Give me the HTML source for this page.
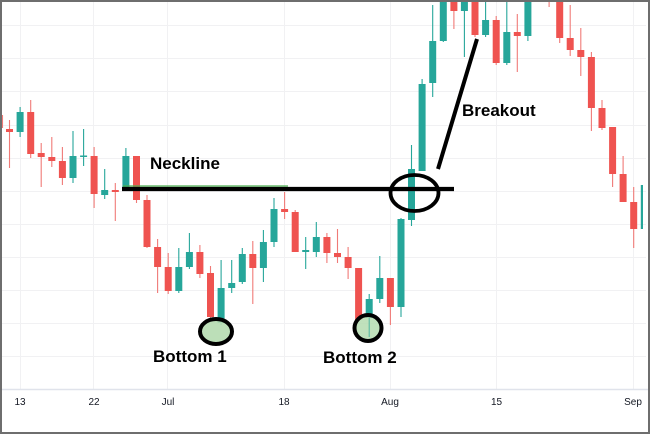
<!DOCTYPE html>
<html>
<head>
<meta charset="utf-8">
<style>
html,body{margin:0;padding:0;background:#fff;}
svg{display:block;}
.lbl{font-family:"Liberation Sans",sans-serif;font-size:10px;fill:#131722;text-anchor:middle;}
.ann{font-family:"Liberation Sans",sans-serif;font-size:17px;font-weight:bold;fill:#000;}
</style>
</head>
<body>
<svg width="652" height="435" viewBox="0 0 652 435" xmlns="http://www.w3.org/2000/svg">
<defs>
<clipPath id="plot"><rect x="2" y="2" width="641" height="387"/></clipPath>
</defs>
<rect x="0" y="0" width="652" height="435" fill="#fff"/>
<!-- grid -->
<g stroke="#f1f1f3" stroke-width="1">
<line x1="2" y1="25.5" x2="646" y2="25.5"/>
<line x1="2" y1="58.5" x2="646" y2="58.5"/>
<line x1="2" y1="91.5" x2="646" y2="91.5"/>
<line x1="2" y1="125.5" x2="646" y2="125.5"/>
<line x1="2" y1="158.5" x2="646" y2="158.5"/>
<line x1="2" y1="191.5" x2="646" y2="191.5"/>
<line x1="2" y1="224.5" x2="646" y2="224.5"/>
<line x1="2" y1="257.5" x2="646" y2="257.5"/>
<line x1="2" y1="290.5" x2="646" y2="290.5"/>
<line x1="2" y1="323.5" x2="646" y2="323.5"/>
<line x1="2" y1="356.5" x2="646" y2="356.5"/>
<line x1="20.5" y1="2" x2="20.5" y2="389"/>
<line x1="93.5" y1="2" x2="93.5" y2="389"/>
<line x1="167.5" y1="2" x2="167.5" y2="389"/>
<line x1="284.5" y1="2" x2="284.5" y2="389"/>
<line x1="390.5" y1="2" x2="390.5" y2="389"/>
<line x1="496.5" y1="2" x2="496.5" y2="389"/>
<line x1="633.5" y1="2" x2="633.5" y2="389"/>
</g>
<!-- axis line -->
<line x1="2" y1="389.5" x2="648" y2="389.5" stroke="#e0e3eb" stroke-width="1.5"/>

<g clip-path="url(#plot)">
<!-- wicks -->
<g stroke-width="1.1">
<line x1="2.5" y1="115" x2="2.5" y2="128" stroke="#f07a77"/>
<line x1="9.5" y1="120" x2="9.5" y2="168" stroke="#f07a77"/>
<line x1="20.1" y1="107" x2="20.1" y2="137" stroke="#26a69a"/>
<line x1="30.7" y1="100" x2="30.7" y2="158" stroke="#f07a77"/>
<line x1="41.2" y1="143" x2="41.2" y2="187" stroke="#f07a77"/>
<line x1="51.8" y1="137" x2="51.8" y2="167" stroke="#f07a77"/>
<line x1="62.4" y1="147" x2="62.4" y2="185" stroke="#f07a77"/>
<line x1="73" y1="131" x2="73" y2="183" stroke="#26a69a"/>
<line x1="83.6" y1="129" x2="83.6" y2="166" stroke="#26a69a"/>
<line x1="94.1" y1="147" x2="94.1" y2="208" stroke="#f07a77"/>
<line x1="104.7" y1="169" x2="104.7" y2="199" stroke="#26a69a"/>
<line x1="115.3" y1="183" x2="115.3" y2="221" stroke="#f07a77"/>
<line x1="125.9" y1="148" x2="125.9" y2="188" stroke="#26a69a"/>
<line x1="136.5" y1="156" x2="136.5" y2="203" stroke="#f07a77"/>
<line x1="147" y1="195" x2="147" y2="248" stroke="#f07a77"/>
<line x1="157.6" y1="239" x2="157.6" y2="293" stroke="#f07a77"/>
<line x1="168.2" y1="253" x2="168.2" y2="294" stroke="#f07a77"/>
<line x1="178.8" y1="248" x2="178.8" y2="293" stroke="#26a69a"/>
<line x1="189.4" y1="233" x2="189.4" y2="269" stroke="#26a69a"/>
<line x1="199.9" y1="245" x2="199.9" y2="278" stroke="#f07a77"/>
<line x1="210.5" y1="266" x2="210.5" y2="318" stroke="#f07a77"/>
<line x1="221.1" y1="260" x2="221.1" y2="325" stroke="#26a69a"/>
<line x1="231.7" y1="260" x2="231.7" y2="293" stroke="#26a69a"/>
<line x1="242.3" y1="248" x2="242.3" y2="284" stroke="#26a69a"/>
<line x1="252.8" y1="241" x2="252.8" y2="304" stroke="#f07a77"/>
<line x1="263.4" y1="230" x2="263.4" y2="282" stroke="#26a69a"/>
<line x1="274" y1="198" x2="274" y2="247" stroke="#26a69a"/>
<line x1="284.6" y1="192" x2="284.6" y2="219" stroke="#f07a77"/>
<line x1="295.2" y1="210" x2="295.2" y2="252" stroke="#f07a77"/>
<line x1="305.7" y1="237" x2="305.7" y2="269" stroke="#26a69a"/>
<line x1="316.3" y1="222" x2="316.3" y2="257" stroke="#26a69a"/>
<line x1="326.9" y1="233" x2="326.9" y2="263" stroke="#f07a77"/>
<line x1="337.5" y1="229" x2="337.5" y2="263" stroke="#f07a77"/>
<line x1="348.1" y1="247" x2="348.1" y2="279" stroke="#f07a77"/>
<line x1="358.6" y1="268" x2="358.6" y2="321" stroke="#f07a77"/>
<line x1="369.2" y1="294" x2="369.2" y2="337" stroke="#26a69a"/>
<line x1="379.8" y1="256" x2="379.8" y2="303" stroke="#26a69a"/>
<line x1="390.4" y1="278" x2="390.4" y2="325" stroke="#f07a77"/>
<line x1="401" y1="218" x2="401" y2="317" stroke="#26a69a"/>
<line x1="411.5" y1="145" x2="411.5" y2="226" stroke="#26a69a"/>
<line x1="422.1" y1="79" x2="422.1" y2="171" stroke="#26a69a"/>
<line x1="432.7" y1="5" x2="432.7" y2="97" stroke="#26a69a"/>
<line x1="443.3" y1="0" x2="443.3" y2="42" stroke="#26a69a"/>
<line x1="453.9" y1="0" x2="453.9" y2="29" stroke="#f07a77"/>
<line x1="464.4" y1="0" x2="464.4" y2="57" stroke="#26a69a"/>
<line x1="475" y1="0" x2="475" y2="37" stroke="#f07a77"/>
<line x1="485.6" y1="2" x2="485.6" y2="37" stroke="#26a69a"/>
<line x1="496.2" y1="16" x2="496.2" y2="65" stroke="#f07a77"/>
<line x1="506.8" y1="2" x2="506.8" y2="65" stroke="#26a69a"/>
<line x1="517.3" y1="14" x2="517.3" y2="72" stroke="#f07a77"/>
<line x1="527.9" y1="0" x2="527.9" y2="41" stroke="#26a69a"/>
<line x1="549.1" y1="0" x2="549.1" y2="7" stroke="#f07a77"/>
<line x1="559.7" y1="0" x2="559.7" y2="43" stroke="#f07a77"/>
<line x1="570.2" y1="5" x2="570.2" y2="56" stroke="#f07a77"/>
<line x1="580.8" y1="28" x2="580.8" y2="76" stroke="#f07a77"/>
<line x1="591.4" y1="52" x2="591.4" y2="131" stroke="#f07a77"/>
<line x1="602" y1="100" x2="602" y2="130" stroke="#f07a77"/>
<line x1="612.6" y1="127" x2="612.6" y2="187" stroke="#f07a77"/>
<line x1="623.1" y1="156" x2="623.1" y2="202" stroke="#f07a77"/>
<line x1="633.7" y1="187" x2="633.7" y2="248" stroke="#f07a77"/>
<line x1="644.3" y1="180" x2="644.3" y2="232" stroke="#26a69a"/>
</g>
<!-- bodies -->
<g>
<rect x="6" y="129" width="7" height="3" fill="#ef5350"/>
<rect x="16.6" y="112" width="7" height="20" fill="#26a69a"/>
<rect x="27.2" y="112" width="7" height="42" fill="#ef5350"/>
<rect x="37.7" y="153" width="7" height="4" fill="#ef5350"/>
<rect x="48.3" y="157" width="7" height="4" fill="#ef5350"/>
<rect x="58.9" y="161" width="7" height="17" fill="#ef5350"/>
<rect x="69.5" y="156" width="7" height="22" fill="#26a69a"/>
<rect x="80.1" y="155.5" width="7" height="1.5" fill="#26a69a"/>
<rect x="90.6" y="156" width="7" height="38" fill="#ef5350"/>
<rect x="101.2" y="190" width="7" height="5" fill="#26a69a"/>
<rect x="111.8" y="190" width="7" height="2" fill="#ef5350"/>
<rect x="122.4" y="156" width="7" height="31" fill="#26a69a"/>
<rect x="133" y="156" width="7" height="44" fill="#ef5350"/>
<rect x="143.5" y="200" width="7" height="47" fill="#ef5350"/>
<rect x="154.1" y="247" width="7" height="20" fill="#ef5350"/>
<rect x="164.7" y="267" width="7" height="24" fill="#ef5350"/>
<rect x="175.3" y="267" width="7" height="24" fill="#26a69a"/>
<rect x="185.9" y="252" width="7" height="15" fill="#26a69a"/>
<rect x="196.4" y="252" width="7" height="22" fill="#ef5350"/>
<rect x="207" y="273" width="7" height="44" fill="#ef5350"/>
<rect x="217.6" y="288" width="7" height="35" fill="#26a69a"/>
<rect x="228.2" y="283" width="7" height="5" fill="#26a69a"/>
<rect x="238.8" y="254" width="7" height="28" fill="#26a69a"/>
<rect x="249.3" y="254" width="7" height="14" fill="#ef5350"/>
<rect x="259.9" y="242" width="7" height="26" fill="#26a69a"/>
<rect x="270.5" y="209" width="7" height="33" fill="#26a69a"/>
<rect x="281.1" y="209" width="7" height="3" fill="#ef5350"/>
<rect x="291.7" y="212" width="7" height="40" fill="#ef5350"/>
<rect x="302.2" y="250" width="7" height="2" fill="#26a69a"/>
<rect x="312.8" y="237" width="7" height="15" fill="#26a69a"/>
<rect x="323.4" y="237" width="7" height="16" fill="#ef5350"/>
<rect x="334" y="253" width="7" height="4" fill="#ef5350"/>
<rect x="344.6" y="257" width="7" height="11" fill="#ef5350"/>
<rect x="355.1" y="268" width="7" height="52" fill="#ef5350"/>
<rect x="365.7" y="299" width="7" height="19" fill="#26a69a"/>
<rect x="376.3" y="278" width="7" height="21" fill="#26a69a"/>
<rect x="386.9" y="278" width="7" height="29" fill="#ef5350"/>
<rect x="397.5" y="219" width="7" height="88" fill="#26a69a"/>
<rect x="408" y="169" width="7" height="51" fill="#26a69a"/>
<rect x="418.6" y="84" width="7" height="87" fill="#26a69a"/>
<rect x="429.2" y="41" width="7" height="42" fill="#26a69a"/>
<rect x="439.8" y="0" width="7" height="41" fill="#26a69a"/>
<rect x="450.4" y="0" width="7" height="11" fill="#ef5350"/>
<rect x="460.9" y="0" width="7" height="11" fill="#26a69a"/>
<rect x="471.5" y="0" width="7" height="35" fill="#ef5350"/>
<rect x="482.1" y="20" width="7" height="15" fill="#26a69a"/>
<rect x="492.7" y="20" width="7" height="43" fill="#ef5350"/>
<rect x="503.3" y="32" width="7" height="31" fill="#26a69a"/>
<rect x="513.8" y="32" width="7" height="4" fill="#ef5350"/>
<rect x="524.4" y="0" width="7" height="36" fill="#26a69a"/>
<rect x="556.2" y="0" width="7" height="38" fill="#ef5350"/>
<rect x="566.7" y="38" width="7" height="12" fill="#ef5350"/>
<rect x="577.3" y="50" width="7" height="7" fill="#ef5350"/>
<rect x="587.9" y="57" width="7" height="51" fill="#ef5350"/>
<rect x="598.5" y="108" width="7" height="20" fill="#ef5350"/>
<rect x="609.1" y="127" width="7" height="47" fill="#ef5350"/>
<rect x="619.6" y="174" width="7" height="28" fill="#ef5350"/>
<rect x="630.2" y="202" width="7" height="27" fill="#ef5350"/>
<rect x="640.8" y="185" width="7" height="44" fill="#26a69a"/>
</g>
</g>

<!-- neckline -->
<line x1="123" y1="186" x2="288" y2="186" stroke="#4caf50" stroke-width="1.2"/>
<line x1="122" y1="189" x2="454" y2="189" stroke="#000" stroke-width="4.2"/>
<!-- breakout line -->
<line x1="438" y1="169" x2="477" y2="39" stroke="#000" stroke-width="4"/>
<!-- breakout ellipse -->
<ellipse cx="414.5" cy="193" rx="24" ry="18" fill="none" stroke="#000" stroke-width="3.8"/>
<!-- bottom circles -->
<ellipse cx="216" cy="331.5" rx="16" ry="12.5" fill="#b5dcb0" fill-opacity="0.9" stroke="#000" stroke-width="4"/>
<ellipse cx="368" cy="328" rx="13.5" ry="13" fill="#b5dcb0" fill-opacity="0.85" stroke="#000" stroke-width="4"/>
<line x1="369.2" y1="318" x2="369.2" y2="337" stroke="#26a69a" stroke-width="1" opacity="0.6"/>

<!-- annotations -->
<text class="ann" x="150" y="169">Neckline</text>
<text class="ann" x="462" y="116">Breakout</text>
<text class="ann" x="153" y="362">Bottom 1</text>
<text class="ann" x="323" y="363">Bottom 2</text>

<!-- axis labels -->
<text class="lbl" x="20" y="405">13</text>
<text class="lbl" x="94" y="405">22</text>
<text class="lbl" x="168" y="405">Jul</text>
<text class="lbl" x="284" y="405">18</text>
<text class="lbl" x="390" y="405">Aug</text>
<text class="lbl" x="496.5" y="405">15</text>
<text class="lbl" x="633" y="405">Sep</text>

<!-- outer border -->
<rect x="1" y="1" width="648" height="432" fill="none" stroke="#6e6e6e" stroke-width="2"/>
</svg>
</body>
</html>
